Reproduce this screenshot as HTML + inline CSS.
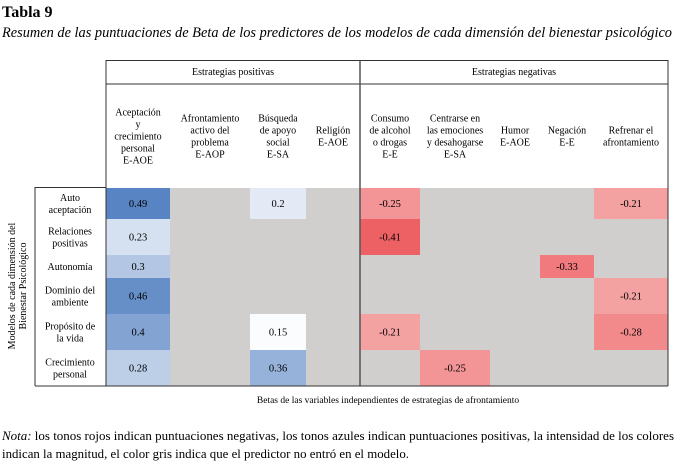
<!DOCTYPE html>
<html><head><meta charset="utf-8"><style>
body{margin:0;background:#fff}
svg{display:block;font-family:"Liberation Serif",serif}
</style></head><body>
<svg id="chart" width="685" height="467" viewBox="0 0 685 467">
<text x="2" y="17" font-size="16" font-weight="bold">Tabla 9</text>
<text x="2" y="37" font-size="15" font-style="italic" textLength="670" lengthAdjust="spacingAndGlyphs">Resumen de las puntuaciones de Beta de los predictores de los modelos de cada dimensión del bienestar psicológico</text>
<g id="grid"></g>
<text transform="translate(17,286) rotate(-90)" font-size="10" text-anchor="middle"><tspan x="0" y="-2">Modelos de cada dimensión del</tspan><tspan x="0" y="9">Bienestar Psicológico</tspan></text>
<text x="388" y="403" font-size="9.5" text-anchor="middle">Betas de las variables independientes de estrategias de afrontamiento</text>
<text x="2" y="440" font-size="13" textLength="672" lengthAdjust="spacingAndGlyphs"><tspan font-style="italic">Nota:</tspan> los tonos rojos indican puntuaciones negativas, los tonos azules indican puntuaciones positivas, la intensidad de los colores</text>
<text x="2" y="458" font-size="13" textLength="407" lengthAdjust="spacingAndGlyphs">indican la magnitud, el color gris indica que el predictor no entró en el modelo.</text>
</svg>
<script>
const columns=[["Aceptación","y","crecimiento","personal","E-AOE"],["Afrontamiento","activo del","problema","E-AOP"],["Búsqueda","de apoyo","social","E-SA"],["Religión","E-AOE"],["Consumo","de alcohol","o drogas","E-E"],["Centrarse en","las emociones","y desahogarse","E-SA"],["Humor","E-AOE"],["Negación","E-E"],["Refrenar el","afrontamiento"]];
const rows=[["Auto","aceptación"],["Relaciones","positivas"],["Autonomía"],["Dominio del","ambiente"],["Propósito de","la vida"],["Crecimiento","personal"]];
const betas=[
[0.49,null,0.2,null,-0.25,null,null,null,-0.21],
[0.23,null,null,null,-0.41,null,null,null,null],
[0.3,null,null,null,null,null,null,-0.33,null],
[0.46,null,null,null,null,null,null,null,-0.21],
[0.4,null,0.15,null,-0.21,null,null,null,-0.28],
[0.28,null,0.36,null,null,-0.25,null,null,null]];
const groups=["Estrategias positivas","Estrategias negativas"];
const colEdges=[106,170,250,306,360,420,490,540,594,668];
const rowEdges=[188,219,255,278,314,350,386];
const NS="http://www.w3.org/2000/svg";
const g=document.getElementById('grid');
function mk(tag,attrs,parent){const e=document.createElementNS(NS,tag);for(const k in attrs)e.setAttribute(k,attrs[k]);(parent||g).appendChild(e);return e;}
function color(v){
 if(v>=0){const t=Math.min(1,Math.max(0,(v-0.15)/0.34));
  const a=[251,252,254],b=[88,132,195];return `rgb(${a.map((c,i)=>Math.round(c+(b[i]-c)*t)).join(',')})`;}
 const t=Math.min(1,Math.max(0,(-v-0.21)/0.2));const a=[244,161,162],b=[237,96,100];
 return `rgb(${a.map((c,i)=>Math.round(c+(b[i]-c)*t)).join(',')})`;}
// gray background
const bg=mk('rect',{x:colEdges[0],y:rowEdges[0],width:colEdges[9]-colEdges[0],height:rowEdges[6]-rowEdges[0],fill:'#d0cfcd'});


// cells
betas.forEach((r,i)=>r.forEach((v,j)=>{
 if(v===null)return;
 const x=colEdges[j],y=rowEdges[i],w=colEdges[j+1]-x,h=rowEdges[i+1]-y;
 const c=mk('rect',{x:x,y:y,width:w,height:h,fill:color(v)});
 
 
 const t=mk('text',{x:x+w/2,y:y+h/2+3.5,'font-size':10.5,'text-anchor':'middle'});
 t.textContent=String(v);
 
 
}));
// row labels
rows.forEach((lab,i)=>{
 const y0=rowEdges[i],y1=rowEdges[i+1],cy=(y0+y1)/2;
 const t=mk('text',{x:70,'font-size':10,'text-anchor':'middle'});
 
 
 lab.forEach((l,k)=>{const s=mk('tspan',{x:70,y:cy+3.5+(k-(lab.length-1)/2)*12},t);s.textContent=l;});
});
// column headers
columns.forEach((lab,j)=>{
 const cx=(colEdges[j]+colEdges[j+1])/2,cy=136;
 const t=mk('text',{x:cx,'font-size':10,'text-anchor':'middle'});
 
 
 lab.forEach((l,k)=>{const s=mk('tspan',{x:cx,y:cy+3.5+(k-(lab.length-1)/2)*12},t);s.textContent=l;});
});
// group headers
[[colEdges[0],colEdges[4]],[colEdges[4],colEdges[9]]].forEach((p,k)=>{
 const t=mk('text',{x:(p[0]+p[1])/2,y:75,'font-size':10,'text-anchor':'middle'});
 t.textContent=groups[k];
 
 
});
// lines
const L=(x1,y1,x2,y2,w,c)=>{const l=mk('line',{x1,y1,x2,y2,stroke:c||'#333','stroke-width':w||1});};
L(106,60.5,668,60.5);L(106,84,668,84);
L(106,60,106,386);L(668,60,668,386);L(360,60,360,386,1.5,'#555');
L(35,187.5,106,187.5);L(35,187,35,386);L(35,386,668,386);
</script>
</body></html>
